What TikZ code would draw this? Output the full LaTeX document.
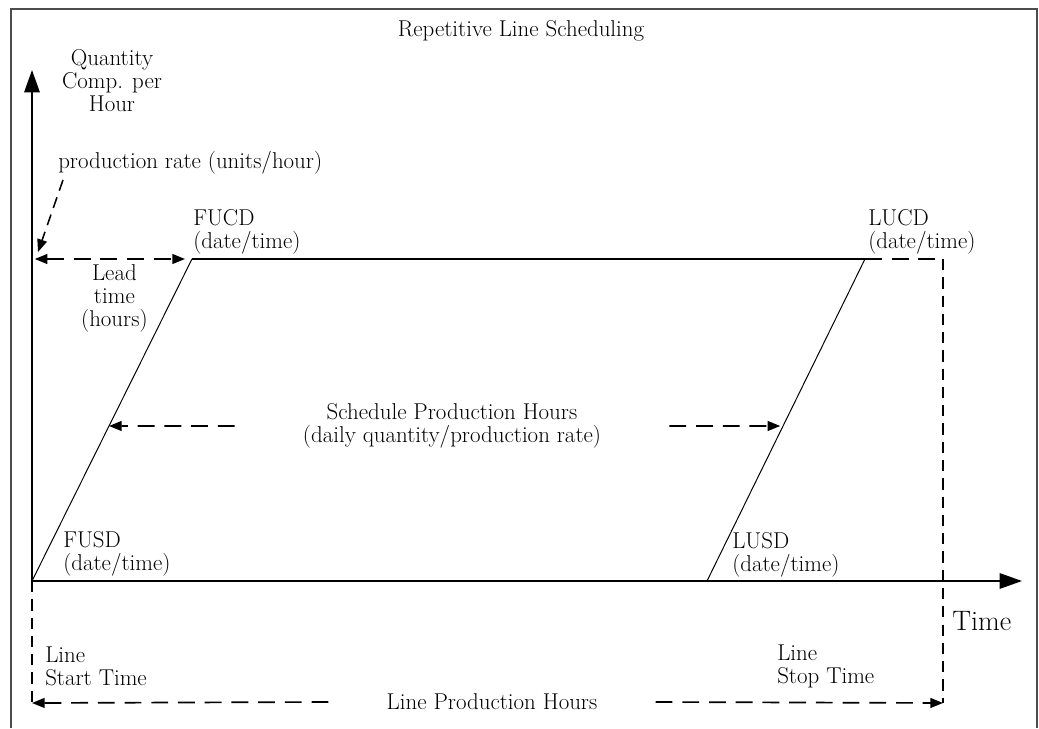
\documentclass[tikz,border=0pt]{standalone}
\usetikzlibrary{arrows.meta, calc}

\begin{document}
\begin{tikzpicture}[>={Triangle[length=9pt, width=7pt]},
  txt/.style={font=\fontsize{16.3}{16.4}\selectfont, inner sep=0pt},
  axis/.style={line width=1.4pt, -{Triangle[length=16pt, width=11pt]}},
  hdash/.style={line width=1.2pt, dash pattern=on 12pt off 7pt},
  vdash/.style={line width=1.1pt, dash pattern=on 8pt off 5pt},
  slope/.style={line width=0.7pt}]

  \useasboundingbox (0,0) rectangle (25.975,18.2);

  % Frame, cut off at the bottom edge.
  \draw[black!70, line width=1.4pt] (0.275,0) -- (0.275,17.975) -- (25.925,17.975) -- (25.925,0);

  % Corner points of the schedule.
  \coordinate (o) at (0.8,3.675);
  \coordinate (ytip) at (0.8,16.45);
  \coordinate (xtip) at (25.55,3.675);
  \coordinate (fucd) at (4.8,11.725);
  \coordinate (lusd) at (17.675,3.675);
  \coordinate (lucd) at (21.625,11.725);
  \coordinate (corner) at (23.575,11.725);
  \coordinate (botL) at (0.8,0.625);
  \coordinate (botR) at (23.575,0.625);
  \coordinate (leadL) at (0.8,11.725);
  \coordinate (prfrom) at (1.575,13.7);
  \coordinate (prto) at (0.95,11.9);
  % where the two ramps cross the height of the middle label
  \coordinate (schedL) at ($(o)!0.4814!(fucd)$);
  \coordinate (schedR) at ($(lusd)!0.4814!(lucd)$);

  \draw[axis] (o) -- (ytip);
  \draw[axis] (o) -- (xtip);
  \draw[line width=1.2pt] (fucd) -- (lucd);
  \draw[slope] (o) -- (fucd);
  \draw[slope] (lusd) -- (lucd);
  \draw[hdash] (lucd) -- (corner);
  \draw[vdash] (corner) -- (botR);
  \draw[vdash] (o) -- (botL);

  \node[txt, align=center] (title) at (13.025,17.425) {Repetitive Line Scheduling};
  \node[txt, align=center] (qty) at (2.8,16.175) {Quantity\\Comp. per\\Hour};
  \node[txt, anchor=west] (prodrate) at (1.45,14.125) {production rate (units/hour)};
  \node[txt, anchor=west, align=left] (fucdlbl) at (4.825,12.4) {FUCD\\(date/time)};
  \node[txt, anchor=west, align=left] (lucdlbl) at (21.7,12.4) {LUCD\\(date/time)};
  \node[txt, align=center] (lead) at (2.86,10.75) {Lead\\time\\(hours)};
  \node[txt, align=center, inner xsep=1.7cm] (sched) at (11.3,7.55)
    {Schedule Production Hours\\(daily quantity/production rate)};
  \node[txt, anchor=west, align=left] (fusdlbl) at (1.575,4.35) {FUSD\\(date/time)};
  \node[txt, anchor=west, align=left] (lusdlbl) at (18.3,4.325) {LUSD\\(date/time)};
  \node[txt, anchor=west, font=\fontsize{20}{22}\selectfont] (time) at (23.8,2.675) {Time};
  \node[txt, anchor=west, align=left] (startlbl) at (1.125,1.55) {Line\\Start Time};
  \node[txt, anchor=west, align=left] (stoplbl) at (19.425,1.55) {Line\\Stop Time};
  \node[txt, inner xsep=1.45cm] (lph) at (12.3,0.65) {Line Production Hours};

  \draw[vdash, ->] (prfrom) -- (prto);
  \draw[hdash, <->, shorten <=2pt, shorten >=5pt] (leadL) -- (fucd);
  \draw[hdash, ->] (sched.west) -- (schedL);
  \draw[hdash, ->, shorten >=2pt] (sched.east) -- (schedR);
  \draw[hdash, ->] (lph.west) -- (botL);
  \draw[hdash, ->] (lph.east) -- (botR);

\end{tikzpicture}
\end{document}
